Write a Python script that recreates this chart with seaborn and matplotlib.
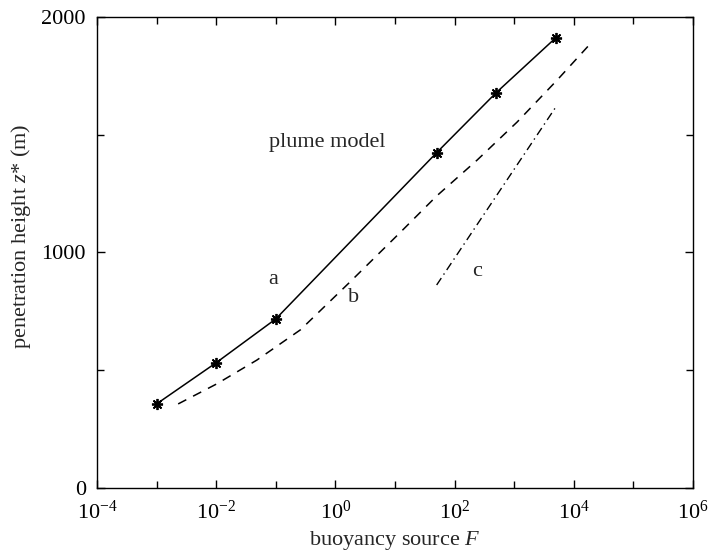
import numpy as np
import pandas as pd
import matplotlib
matplotlib.use("Agg")
import matplotlib.pyplot as plt
from matplotlib.ticker import FixedLocator, NullFormatter, LogFormatterSciNotation
import seaborn as sns

# --- data ---
plume_F = [1e-3, 1e-2, 1e-1, 50, 500, 5000]
plume_z = [357, 532, 718, 1424, 1679, 1912]

b_F = [2.3e-3, 1.02e-2, 4.8e-2, 0.26, 1.76, 12.0, 50, 240, 1120, 5250, 1.95e4]
b_z = [357, 442, 543, 672, 875, 1083, 1240, 1393, 1554, 1732, 1890]

c_F = [50, 5000]
c_z = [862, 1618]

x_ticks = [1e-4, 1e-2, 1e0, 1e2, 1e4, 1e6]
x_minor = [1e-3, 1e-1, 1e1, 1e3, 1e5]
y_ticks = [0, 1000, 2000]
y_minor = [500, 1500]

labels = {"plume model": (0.72, 1469), "a": (0.089, 887), "b": (2.04, 807), "c": (240, 921)}

sns.set_style("ticks")
plt.rcParams["font.family"] = ["Liberation Serif", "DejaVu Serif"]
plt.rcParams["mathtext.fontset"] = "custom"
plt.rcParams["mathtext.rm"] = "Liberation Serif"
plt.rcParams["mathtext.it"] = "Liberation Serif:italic"

fig = plt.figure(figsize=(7.12, 5.56), dpi=100)
ax = fig.add_axes([97 / 712, 1 - 488 / 556, (693 - 97) / 712, (488 - 17) / 556])

df_a = pd.DataFrame({"F": plume_F, "z": plume_z})
df_b = pd.DataFrame({"F": b_F, "z": b_z})
df_c = pd.DataFrame({"F": c_F, "z": c_z})

sns.lineplot(data=df_a, x="F", y="z", ax=ax, color="black", lw=1.1, estimator=None,
             marker=(8, 2, 0), markersize=8, markeredgewidth=1.3, markeredgecolor="black")
sns.lineplot(data=df_b, x="F", y="z", ax=ax, color="black", lw=1.1, estimator=None,
             linestyle=(0, (6, 5)))
sns.lineplot(data=df_c, x="F", y="z", ax=ax, color="black", lw=1.0, estimator=None,
             linestyle=(0, (6, 3, 1, 3)))

ax.set_xscale("log")
ax.set_xlim(1e-4, 1e6)
ax.set_ylim(0, 2000)

ax.xaxis.set_major_locator(FixedLocator(x_ticks))
ax.xaxis.set_minor_locator(FixedLocator(x_minor))
ax.xaxis.set_major_formatter(LogFormatterSciNotation())
ax.xaxis.set_minor_formatter(NullFormatter())
ax.yaxis.set_major_locator(FixedLocator(y_ticks))
ax.yaxis.set_minor_locator(FixedLocator(y_minor))

ax.tick_params(which="both", direction="in", top=True, right=True, width=1.0,
               labelsize=16, colors="black")
ax.tick_params(axis="x", which="both", pad=9)
ax.tick_params(axis="y", which="both", pad=8)
ax.tick_params(which="major", length=6)
ax.tick_params(which="minor", length=5)
for s in ax.spines.values():
    s.set_visible(True)
    s.set_linewidth(1.0)
    s.set_color("black")

ax.set_xlabel("buoyancy source $F$", fontsize=16, labelpad=4)
ax.set_ylabel("penetration height $z$* (m)", fontsize=16)
ax.yaxis.set_label_coords(-0.107, 0.535)

for txt, (xx, yy) in labels.items():
    ax.text(xx, yy, txt, fontsize=16, ha="center", va="center")

fig.savefig("out.png", dpi=100)
